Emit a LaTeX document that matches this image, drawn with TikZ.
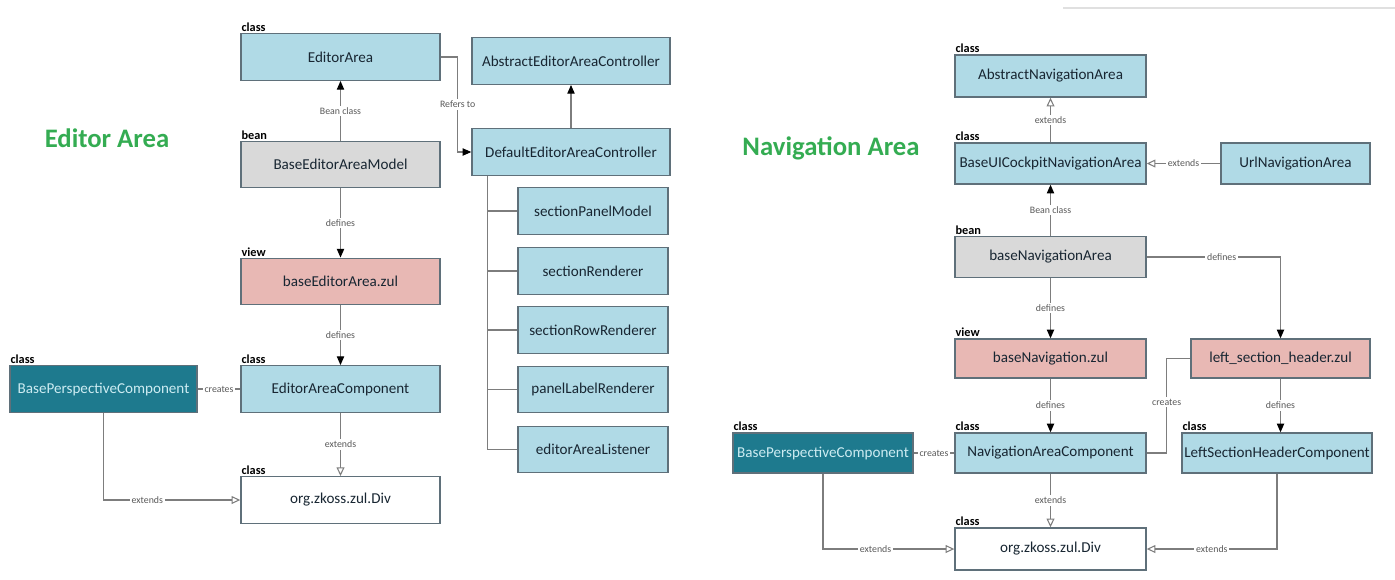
\documentclass[tikz,border=0pt]{standalone}
\usepackage{fontspec}
\setmainfont{Carlito}
\usetikzlibrary{arrows.meta}

\definecolor{clsblue}{RGB}{176,218,230}
\definecolor{beangray}{RGB}{217,217,217}
\definecolor{viewpink}{RGB}{232,184,180}
\definecolor{perteal}{RGB}{30,122,142}
\definecolor{perttext}{RGB}{205,236,242}
\definecolor{boxline}{RGB}{95,112,122}
\definecolor{boxtext}{RGB}{24,38,50}
\definecolor{wire}{RGB}{125,125,125}
\definecolor{titlegreen}{RGB}{52,172,82}

\begin{document}
\begin{tikzpicture}[
		x=0.02cm, y=-0.02cm,
		box/.style={draw=boxline, line width=0.8pt, text=boxtext,
				minimum width=3.98cm, minimum height=0.93cm, inner sep=0pt,
				font=\fontsize{8.6}{10}\selectfont},
		cls/.style={box, fill=clsblue},
		bean/.style={box, fill=beangray},
		view/.style={box, fill=viewpink},
		persp/.style={box, fill=perteal, text=perttext},
		plain/.style={box, fill=white},
		kind/.style={label={[anchor=south west, inner sep=0.5pt,
						font=\bfseries\fontsize{7}{8}\selectfont]north west:#1}},
		wire/.style={draw=wire, line width=0.6pt},
		uses/.style={wire, -{Triangle[length=5pt, width=4.2pt, color=black]}},
		inherits/.style={wire, -{Triangle[open, length=5pt, width=4.5pt, fill=white]}},
		lbl/.style={fill=white, inner sep=1pt, text=black!65,
				font=\fontsize{5.6}{6.5}\selectfont},
		title/.style={text=titlegreen, font=\bfseries\fontsize{15.2}{17}\selectfont}
	]
	\useasboundingbox (0,0) rectangle (1395,579);

	% editor area
	\node[title] (edTitle) at (107,138) {Editor Area};
	\node[cls, kind=class] (edArea) at (340.5,57) {EditorArea};
	\node[bean, kind=bean] (edModel) at (340.5,164.5) {BaseEditorAreaModel};
	\node[view, kind=view] (edView) at (340.5,281.5) {baseEditorArea.zul};
	\node[cls, kind=class] (edComp) at (340.5,389) {EditorAreaComponent};
	\node[plain, kind=class] (edDiv) at (340.5,500) {org.zkoss.zul.Div};
	\node[persp, kind=class, minimum width=3.74cm] (edPersp) at (103.5,389) {BasePerspectiveComponent};

	\node[cls, minimum width=3.96cm] (absCtrl) at (571,61) {AbstractEditorAreaController};
	\node[cls, minimum width=3.96cm] (defCtrl) at (571,152) {DefaultEditorAreaController};
	\node[cls, minimum width=3cm] (panelModel) at (593,211) {sectionPanelModel};
	\node[cls, minimum width=3cm] (secRenderer) at (593,271) {sectionRenderer};
	\node[cls, minimum width=3cm] (rowRenderer) at (593,330) {sectionRowRenderer};
	\node[cls, minimum width=3cm] (labelRenderer) at (593,389.5) {panelLabelRenderer};
	\node[cls, minimum width=3cm] (edListener) at (593,449.5) {editorAreaListener};

	\draw[uses] (edModel) -- node[lbl] {Bean class} (edArea);
	\draw[uses] (edModel) -- node[lbl] {defines} (edView);
	\draw[uses] (edView) -- node[lbl] {defines} (edComp);
	\draw[inherits] (edComp) -- node[lbl] {extends} (edDiv);
	\draw[wire] (edPersp) -- node[lbl] {creates} (edComp);
	\draw[inherits] (edPersp.south) |- node[lbl, pos=0.66] {extends} (edDiv.west);
	\draw[uses] (edArea.east) -- ++(17,0) |- node[lbl, pos=0.25] {Refers to} (defCtrl.west);
	\draw[uses] (defCtrl) -- (absCtrl);
	\draw[wire] (defCtrl.south west) ++(16,0) |- (panelModel.west);
	\draw[wire] (defCtrl.south west) ++(16,0) |- (secRenderer.west);
	\draw[wire] (defCtrl.south west) ++(16,0) |- (rowRenderer.west);
	\draw[wire] (defCtrl.south west) ++(16,0) |- (labelRenderer.west);
	\draw[wire] (defCtrl.south west) ++(16,0) |- (edListener.west);

	% navigation area
	\draw[black!12, line width=0.6pt] (1063,8) -- (1395,8);
	\node[title] (navTitle) at (831,148) {Navigation Area};
	\node[cls, kind=class, minimum width=3.82cm, minimum height=0.84cm] (absNav) at (1050.5,76) {AbstractNavigationArea};
	\node[cls, kind=class, minimum width=3.82cm, minimum height=0.82cm] (baseNav) at (1050.5,163.5) {BaseUICockpitNavigationArea};
	\node[cls, minimum width=2.98cm, minimum height=0.82cm] (urlNav) at (1295.5,163.5) {UrlNavigationArea};
	\node[bean, kind=bean, minimum width=3.82cm, minimum height=0.82cm] (navBean) at (1050.5,257) {baseNavigationArea};
	\node[view, kind=view, minimum width=3.82cm, minimum height=0.78cm] (navView) at (1050.5,358.5) {baseNavigation.zul};
	\node[view, minimum width=3.58cm, minimum height=0.78cm] (lshView) at (1280.5,358.5) {left\_section\_header.zul};
	\node[cls, kind=class, minimum width=3.82cm, minimum height=0.8cm] (navComp) at (1050.5,453) {NavigationAreaComponent};
	\node[cls, kind=class, minimum width=3.8cm, minimum height=0.8cm] (lshComp) at (1277,453) {LeftSectionHeaderComponent};
	\node[persp, kind=class, minimum width=3.6cm, minimum height=0.8cm] (navPersp) at (823,453) {BasePerspectiveComponent};
	\node[plain, kind=class, minimum width=3.82cm, minimum height=0.84cm] (navDiv) at (1050.5,549) {org.zkoss.zul.Div};

	\draw[inherits] (baseNav) -- node[lbl] {extends} (absNav);
	\draw[inherits] (urlNav) -- node[lbl] {extends} (baseNav);
	\draw[uses] (navBean) -- node[lbl] {Bean class} (baseNav);
	\draw[uses] (navBean) -- node[lbl] {defines} (navView);
	\draw[uses] (navBean.east) -| node[lbl, pos=0.28] {defines} (lshView.north);
	\draw[uses] (navView) -- node[lbl] {defines} (navComp);
	\draw[uses] (lshView.south) -- node[lbl] {defines} (lshView.south |- lshComp.north);
	\draw[wire] (navComp.east) -- ++(20,0) |- node[lbl, pos=0.27] {creates} (lshView.west);
	\draw[wire] (navPersp) -- node[lbl] {creates} (navComp);
	\draw[inherits] (navComp) -- node[lbl] {extends} (navDiv);
	\draw[inherits] (navPersp.south) |- node[lbl, pos=0.7] {extends} (navDiv.west);
	\draw[inherits] (lshComp.south) |- node[lbl, pos=0.75] {extends} (navDiv.east);
\end{tikzpicture}
\end{document}
